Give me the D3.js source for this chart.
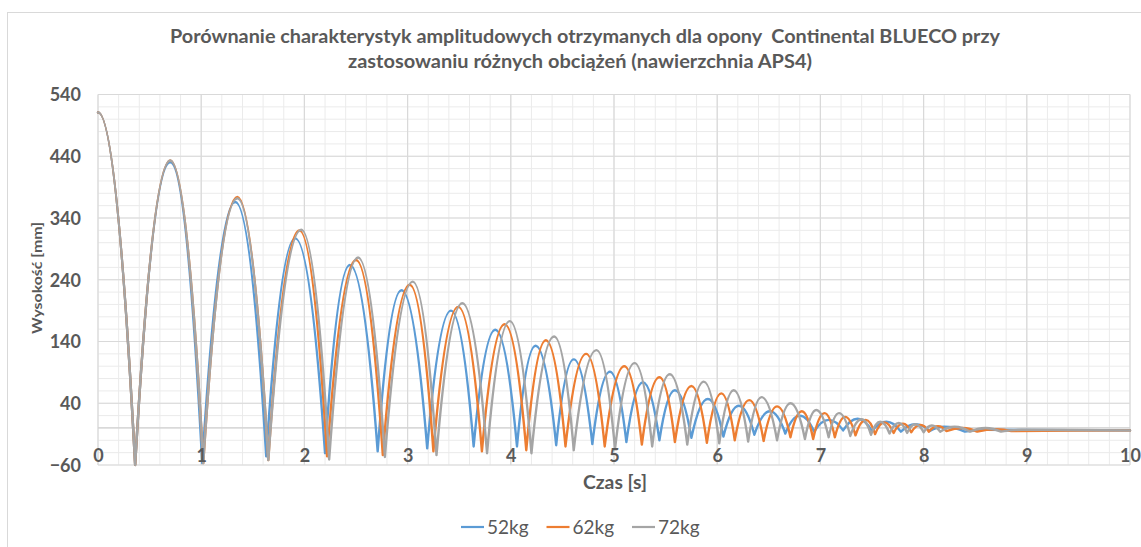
<!DOCTYPE html>
<html><head><meta charset="utf-8">
<script src="https://cdn.jsdelivr.net/npm/d3@7"></script>
<style>
body{margin:0;background:#fff}
svg{display:block;font-family:Lato,"Open Sans",sans-serif}
</style>
</head><body>
<svg id="c" width="1141" height="547"></svg>
<script>
// ---------------- data ----------------
const titleLines = [
  "Porównanie charakterystyk amplitudowych otrzymanych dla opony  Continental BLUECO przy",
  "zastosowaniu różnych obciążeń (nawierzchnia APS4)"
];
const yAxisTitle = "Wysokość [mm]";
const xAxisTitle = "Czas [s]";
const xTicks = [0,1,2,3,4,5,6,7,8,9,10];
const yTicks = [-60,40,140,240,340,440,540];
const seriesNames = ["52kg","62kg","72kg"];

// turning points (peaks / troughs): time [s], height [mm]
const t52 = [0,0.36,0.70,1.01,1.33,1.63,1.91,2.20,2.44,2.71,2.94,3.19,3.42,3.64,3.85,4.06,4.24,4.44,4.61,4.79,4.96,5.12,5.28,5.44,5.59,5.75,5.91,6.06,6.21,6.36,6.51,6.66,6.80,6.94,7.08,7.22,7.36,7.50,7.64,7.78,7.92,8.06,8.20,8.40,8.60,10];
const h52 = [511,-60,430,-57,366,-46,307,-41,264,-38,223,-33,190,-30,159,-30,133,-28,111,-26,91,-23,74,-20,61,-16,47,-14,36,-11,27,-9,20,-6,13,-4,15,-5,10,-6,6,-5,2,-6,-3,-4];

const t62 = [0,0.36,0.70,1.02,1.35,1.65,1.95,2.22,2.50,2.76,3.02,3.25,3.49,3.72,3.94,4.15,4.34,4.53,4.73,4.91,5.10,5.27,5.44,5.59,5.75,5.90,6.04,6.17,6.31,6.45,6.58,6.71,6.82,6.93,7.04,7.14,7.24,7.34,7.44,7.53,7.62,7.71,7.80,7.88,7.97,8.05,8.14,8.22,8.38,8.52,8.70,8.85,10];
const h62 = [511,-60,433,-57,374,-52,320,-46,272,-44,232,-38,196,-38,168,-36,142,-30,120,-30,100,-27,82,-23,68,-24,56,-20,45,-21,35,-15,27,-18,24,-15,18,-12,13,-10,9,-8,7,-7,5,-6,3,-5,0,-6,-2,-5,-4];

const t72 = [0,0.36,0.70,1.02,1.35,1.65,1.97,2.24,2.52,2.78,3.05,3.28,3.53,3.77,3.99,4.20,4.42,4.61,4.83,5.01,5.20,5.37,5.54,5.71,5.87,6.02,6.16,6.30,6.43,6.58,6.71,6.85,6.96,7.08,7.18,7.29,7.40,7.49,7.58,7.67,7.76,7.84,7.92,8.00,8.08,8.16,8.30,8.45,8.60,8.75,8.95,10];
const h72 = [511,-60,433,-57,372,-52,321,-51,276,-47,237,-44,202,-41,173,-41,148,-36,126,-34,105,-30,87,-27,75,-25,61,-22,50,-20,40,-18,29,-15,24,-13,14,-11,10,-9,8,-8,6,-7,4,-6,2,-6,0,-6,-3,-4];

const seriesT = [t52,t62,t72];
const seriesH = [h52,h62,h72];

// ---------------- styles ----------------
const colors = ["#5B9BD5","#ED7D31","#A5A5A5"];
const textColor = "#595959";

const svg = d3.select("#c");
const x = d3.scaleLinear().domain([0,10]).range([98,1130]);
const y = d3.scaleLinear().domain([-60,540]).range([465,94.5]);

// chart border
svg.append("rect").attr("x",7.5).attr("y",12.5).attr("width",1140).attr("height",540)
  .attr("fill","#fff").attr("stroke","#d9d9d9").attr("stroke-width",1);

// minor gridlines
const grid = svg.append("g");
const minorX = d3.range(0,10.0001,0.2);
const minorY = d3.range(-60,540.001,20);
grid.selectAll(".mx").data(minorX).join("line")
  .attr("x1",d=>x(d)).attr("x2",d=>x(d)).attr("y1",y(540)).attr("y2",y(-60))
  .attr("stroke","#ebebeb").attr("stroke-width",1);
grid.selectAll(".my").data(minorY).join("line")
  .attr("x1",x(0)).attr("x2",x(10)).attr("y1",d=>y(d)).attr("y2",d=>y(d))
  .attr("stroke","#ebebeb").attr("stroke-width",1);
// major gridlines
grid.selectAll(".Mx").data(xTicks).join("line")
  .attr("x1",d=>x(d)).attr("x2",d=>x(d)).attr("y1",y(540)).attr("y2",y(-60))
  .attr("stroke","#d9d9d9").attr("stroke-width",1.2);
grid.selectAll(".My").data(yTicks).join("line")
  .attr("x1",x(0)).attr("x2",x(10)).attr("y1",d=>y(d)).attr("y2",d=>y(d))
  .attr("stroke","#d9d9d9").attr("stroke-width",1.2);
// horizontal axis line at 0
grid.append("line").attr("x1",x(0)).attr("x2",x(10)).attr("y1",y(0)).attr("y2",y(0))
  .attr("stroke","#d0d0d0").attr("stroke-width",1.3);

// series: each stretch between turning points is a half-parabola with its apex at the higher point
function buildPath(ts, hs){
  const p = d3.path();
  p.moveTo(x(ts[0]), y(hs[0]));
  for(let i=1;i<ts.length;i++){
    const x0 = x(ts[i-1]), x1 = x(ts[i]);
    const yTop = y(Math.max(hs[i-1], hs[i]));
    p.quadraticCurveTo((x0+x1)/2, yTop, x1, y(hs[i]));
  }
  return p.toString();
}
const lines = svg.append("g");
seriesT.forEach((ts,i)=>{
  lines.append("path").attr("d",buildPath(ts,seriesH[i]))
    .attr("fill","none").attr("stroke",colors[i]).attr("stroke-width",2.4)
    .attr("stroke-linejoin","round").attr("stroke-linecap","round");
});

// axes labels
const yAx = svg.append("g").attr("transform","translate(81,0)")
  .call(d3.axisLeft(y).tickValues(yTicks).tickSize(0).tickPadding(0).tickFormat(d3.format("d")));
yAx.select(".domain").remove();
yAx.selectAll("text").attr("fill",textColor).attr("font-size",18).attr("font-weight","bold")
  .attr("font-family","Lato, sans-serif").attr("dy","0.35em");

const xAx = svg.append("g").attr("transform","translate(0,449)")
  .call(d3.axisBottom(x).tickValues(xTicks).tickSize(0).tickPadding(0).tickFormat(d3.format("d")));
xAx.select(".domain").remove();
xAx.selectAll("text").attr("fill",textColor).attr("font-size",18).attr("font-weight","bold")
  .attr("font-family","Lato, sans-serif");

// titles
svg.append("text").attr("x",585).attr("y",43).attr("text-anchor","middle")
  .style("white-space","pre")
  .attr("fill",textColor).attr("font-size",18).attr("font-weight","bold")
  .attr("textLength",830).attr("lengthAdjust","spacingAndGlyphs").text(titleLines[0]);
svg.append("text").attr("x",580).attr("y",68).attr("text-anchor","middle")
  .attr("fill",textColor).attr("font-size",18).attr("font-weight","bold")
  .attr("textLength",464).attr("lengthAdjust","spacingAndGlyphs").text(titleLines[1]);

svg.append("text").attr("transform","translate(42,278) rotate(-90)").attr("text-anchor","middle")
  .attr("fill",textColor).attr("font-size",14).attr("font-weight","bold")
  .attr("textLength",112).attr("lengthAdjust","spacingAndGlyphs").text(yAxisTitle);

svg.append("text").attr("x",615).attr("y",489).attr("text-anchor","middle")
  .attr("fill",textColor).attr("font-size",18).attr("font-weight","bold")
  .attr("textLength",64).attr("lengthAdjust","spacingAndGlyphs").text(xAxisTitle);

// legend
const leg = svg.append("g");
seriesNames.forEach((n,i)=>{
  const lx = 461 + 85.5*i;
  leg.append("line").attr("x1",lx).attr("x2",lx+23).attr("y1",527).attr("y2",527)
    .attr("stroke",colors[i]).attr("stroke-width",2.2);
  leg.append("text").attr("x",lx+26).attr("y",534).attr("fill",textColor)
    .attr("font-size",19).text(n);
});
</script>
</body></html>
